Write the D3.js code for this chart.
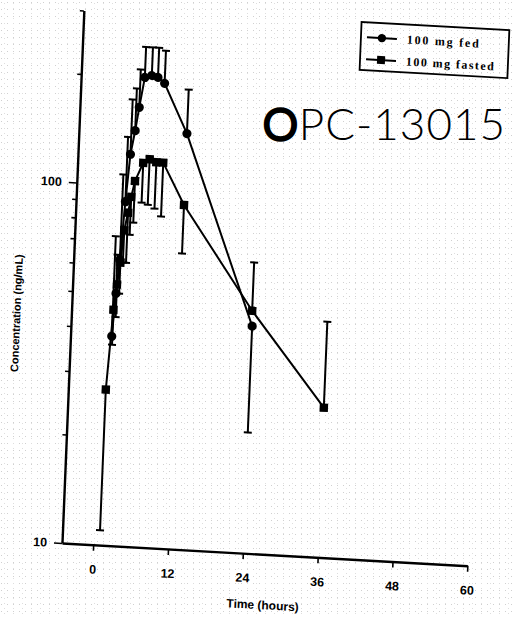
<!DOCTYPE html>
<html lang="en">
<head>
<meta charset="UTF-8">
<title>OPC-13015 concentration</title>
<script src="https://d3js.org/d3.v7.min.js"></script>
<style>
    body {
        margin: 0;
        overflow: hidden;
        background: #fff;
    }
    .axis path, .axis line {
        stroke: #000;
    }
    .axis text {
        font-family: "Liberation Sans", Arial, sans-serif;
        font-weight: bold;
        font-size: 12.5px;
        fill: #000;
    }
</style>
</head>
<body>
<div id="chart"></div>
<script>
    // values
    const fedTime = [1.6, 2.0, 2.4, 2.9, 3.4, 4.0, 4.5, 5.2, 6.3, 7.3, 8.4, 12.3, 24.0];
    const fedConc = [38, 50, 62, 90, 122, 142, 165, 200, 203, 201, 194, 142, 42.6];
    const fedErr = [34, 14, 45, 46, 51, 44, 45, 43, 40, 42, 45, 46, 21];
    const fedErrDir = [1, 1, 1, 1, 1, 1, 1, 1, 1, 1, 1, 1, -1];

    const fastTime = [1.0, 1.7, 2.1, 2.5, 2.9, 3.4, 3.8, 4.3, 5.5, 6.5, 7.6, 8.7, 12.3, 23.9, 36.0];
    const fastConc = [27, 45, 53, 61, 75, 84, 93, 103, 116, 119, 117, 117, 90, 47, 26];
    const fastErr = [16, 9, 10, 11, 14, 23, 20, 24, 26, 30, 30, 34, 24, 17, 19];
    const fastErrDir = [-1, -1, -1, -1, -1, -1, -1, -1, -1, -1, -1, -1, -1, 1, 1];

    const xTicks = [0, 12, 24, 36, 48, 60];
    const yTicks = [10, 20, 30, 40, 50, 60, 70, 80, 90, 100, 200, 300];
    const yLabels = [10, 100];
    const legendNames = ["100 mg fed", "100 mg fasted"];

    const width = 516;
    const height = 618;

    const svg = d3.select("#chart")
        .append("svg")
        .attr("width", width)
        .attr("height", height);

    // scanned paper speckle
    const defs = svg.append("defs");
    const p1 = defs.append("pattern").attr("id", "speckA")
        .attr("width", 6).attr("height", 7).attr("patternUnits", "userSpaceOnUse");
    p1.append("rect").attr("x", 1).attr("y", 2).attr("width", 1).attr("height", 1).attr("fill", "#d0d0d0");
    const p2 = defs.append("pattern").attr("id", "speckB")
        .attr("width", 9).attr("height", 5).attr("patternUnits", "userSpaceOnUse");
    p2.append("rect").attr("x", 4).attr("y", 3).attr("width", 1).attr("height", 1).attr("fill", "#dedede");

    svg.append("rect").attr("width", width).attr("height", height).attr("fill", "#fff");
    svg.append("rect").attr("width", width).attr("height", height).attr("fill", "url(#speckA)");
    svg.append("rect").attr("width", width).attr("height", height).attr("fill", "url(#speckB)");

    // the page was scanned slightly skewed
    const plot = svg.append("g")
        .attr("transform", "matrix(0.9984,0.0558,-0.041,0.9992,62,543)");

    const x = d3.scaleLinear().domain([-5, 60]).range([0, 406]);
    const y = d3.scaleLog().domain([10, 300]).range([0, -533]);

    const xAxis = plot.append("g")
        .attr("class", "axis")
        .call(d3.axisBottom(x).tickValues(xTicks).tickSize(6).tickPadding(14).tickSizeOuter(0));
    xAxis.select(".domain").attr("stroke-width", 2.4);
    xAxis.selectAll(".tick line").attr("stroke-width", 1.6);

    const yAxis = plot.append("g")
        .attr("class", "axis")
        .call(d3.axisLeft(y).tickValues(yTicks)
            .tickFormat(d => yLabels.includes(d) ? d : "")
            .tickSize(8).tickPadding(7).tickSizeOuter(0));
    yAxis.select(".domain").attr("stroke-width", 2.4);
    yAxis.selectAll(".tick line")
        .attr("stroke-width", 1.6)
        .attr("x2", d => yLabels.includes(d) ? -8 : -4);

    plot.append("text")
        .attr("x", 203).attr("y", 55)
        .attr("text-anchor", "middle")
        .style("font-family", "Liberation Sans, Arial, sans-serif")
        .style("font-weight", "bold")
        .style("font-size", "12px")
        .text("Time (hours)");

    plot.append("text")
        .attr("transform", "translate(-51,-227) rotate(-90)")
        .attr("text-anchor", "middle")
        .style("font-family", "Liberation Sans, Arial, sans-serif")
        .style("font-weight", "bold")
        .style("font-size", "11px")
        .text("Concentration (ng/mL)");

    const fed = fedTime.map((t, i) => ({ t: t, c: fedConc[i], e: fedErr[i], dir: fedErrDir[i] }));
    const fast = fastTime.map((t, i) => ({ t: t, c: fastConc[i], e: fastErr[i], dir: fastErrDir[i] }));

    function drawErrors(data) {
        const g = plot.append("g").attr("stroke", "#000").attr("stroke-width", 2);
        g.selectAll("line.bar")
            .data(data)
            .enter()
            .append("line")
            .attr("class", "bar")
            .attr("x1", d => x(d.t)).attr("x2", d => x(d.t))
            .attr("y1", d => y(d.c)).attr("y2", d => y(d.c + d.dir * d.e));
        g.selectAll("line.cap")
            .data(data)
            .enter()
            .append("line")
            .attr("class", "cap")
            .attr("x1", d => x(d.t) - 4).attr("x2", d => x(d.t) + 4)
            .attr("y1", d => y(d.c + d.dir * d.e)).attr("y2", d => y(d.c + d.dir * d.e));
    }
    drawErrors(fed);
    drawErrors(fast);

    const line = d3.line().x(d => x(d.t)).y(d => y(d.c));
    plot.append("path").datum(fed).attr("d", line)
        .attr("fill", "none").attr("stroke", "#000").attr("stroke-width", 2);
    plot.append("path").datum(fast).attr("d", line)
        .attr("fill", "none").attr("stroke", "#000").attr("stroke-width", 2);

    plot.selectAll("circle.fed")
        .data(fed)
        .enter()
        .append("circle")
        .attr("class", "fed")
        .attr("cx", d => x(d.t)).attr("cy", d => y(d.c))
        .attr("r", 4.6)
        .attr("fill", "#000");

    plot.selectAll("rect.fast")
        .data(fast)
        .enter()
        .append("rect")
        .attr("class", "fast")
        .attr("x", d => x(d.t) - 4.2).attr("y", d => y(d.c) - 4.2)
        .attr("width", 8.4).attr("height", 8.4)
        .attr("fill", "#000");

    // legend
    const legend = plot.append("g").attr("transform", "translate(278,-537)");
    legend.append("rect")
        .attr("width", 148).attr("height", 48)
        .attr("fill", "none").attr("stroke", "#000").attr("stroke-width", 1.8);
    legendNames.forEach((name, i) => {
        const row = legend.append("g").attr("transform", `translate(0,${15 + i * 22})`);
        row.append("line").attr("x1", 6).attr("x2", 36)
            .attr("stroke", "#000").attr("stroke-width", 2);
        if (i === 0) {
            row.append("circle").attr("cx", 21).attr("r", 4.2).attr("fill", "#000");
        } else {
            row.append("rect").attr("x", 17).attr("y", -4).attr("width", 8).attr("height", 8).attr("fill", "#000");
        }
        row.append("text")
            .attr("x", 46).attr("y", 4)
            .attr("textLength", i === 0 ? 72 : 88)
            .style("font-family", "Liberation Serif, serif")
            .style("font-weight", "bold")
            .style("font-size", "12px")
            .text(name);
    });

    // handwritten compound code on the scan
    const note = svg.append("text")
        .attr("x", 263).attr("y", 140)
        .attr("textLength", 242)
        .style("font-family", "Lato, 'Open Sans', sans-serif")
        .style("font-weight", 300)
        .style("font-size", "44px")
        .attr("fill", "#000");
    note.append("tspan").attr("stroke", "#000").attr("stroke-width", 3.5).text("O");
    note.append("tspan").text("PC-13015");
</script>
</body>
</html>
